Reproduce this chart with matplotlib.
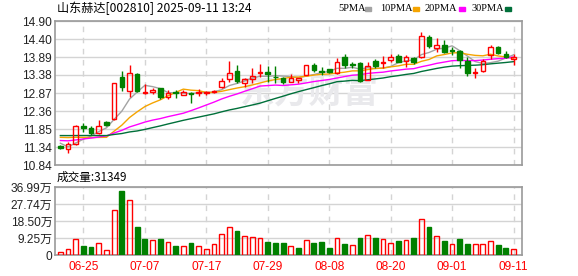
import matplotlib
matplotlib.use("Agg")
import matplotlib.pyplot as plt
from matplotlib.patches import Rectangle
import numpy as np
import pandas as pd

plt.rcParams["font.family"] = ["Liberation Sans", "Noto Sans CJK SC"]

# ---- data ----
dates = ["06-20", "06-23", "06-24", "06-25", "06-26", "06-27", "06-30", "07-01", "07-02", "07-03",
         "07-04", "07-07", "07-08", "07-09", "07-10", "07-11", "07-14", "07-15", "07-16", "07-17",
         "07-18", "07-21", "07-22", "07-23", "07-24", "07-25", "07-28", "07-29", "07-30", "07-31",
         "08-01", "08-04", "08-05", "08-06", "08-07", "08-08", "08-11", "08-12", "08-13", "08-14",
         "08-15", "08-18", "08-19", "08-20", "08-21", "08-22", "08-25", "08-26", "08-27", "08-28",
         "08-29", "09-01", "09-02", "09-03", "09-04", "09-05", "09-08", "09-09", "09-10", "09-11"]

open_ = [11.38, 11.28, 11.43, 11.94, 11.88, 11.73, 12.05, 12.14, 13.31, 12.93,
         13.41, 12.88, 12.90, 13.00, 12.77, 12.89, 12.82, 12.88, 12.86, 12.87,
         12.89, 13.05, 13.26, 13.50, 13.16, 13.26, 13.44, 13.45, 13.33, 13.28,
         13.19, 13.24, 13.38, 13.66, 13.49, 13.54, 13.43, 13.89, 13.69, 13.71,
         13.24, 13.77, 13.71, 13.80, 13.92, 13.77, 13.85, 13.89, 14.46, 14.13,
         14.22, 14.08, 14.05, 13.77, 13.43, 13.50, 13.94, 14.16, 13.96, 13.82]
high = [11.40, 11.49, 11.97, 12.02, 11.94, 12.11, 12.07, 13.16, 13.50, 13.66,
        13.44, 13.12, 13.02, 13.02, 12.95, 12.95, 12.95, 12.91, 12.97, 12.94,
        12.95, 13.28, 13.78, 13.66, 13.30, 13.57, 13.69, 13.63, 13.63, 13.33,
        13.41, 13.30, 13.66, 13.71, 13.60, 13.56, 13.85, 13.96, 13.74, 13.73,
        13.74, 13.82, 13.92, 13.96, 13.98, 13.94, 13.89, 14.58, 14.50, 14.43,
        14.36, 14.18, 14.08, 13.89, 13.58, 13.82, 14.22, 14.20, 14.05, 13.96]
low = [11.29, 11.17, 11.39, 11.78, 11.68, 11.70, 11.93, 12.11, 12.93, 12.77,
       12.91, 12.84, 12.84, 12.69, 12.69, 12.74, 12.80, 12.60, 12.79, 12.81,
       12.88, 13.00, 13.19, 13.16, 13.05, 13.16, 13.33, 13.19, 13.14, 13.12,
       13.17, 13.14, 13.38, 13.47, 13.38, 13.44, 13.40, 13.58, 13.57, 13.18,
       13.24, 13.58, 13.57, 13.74, 13.73, 13.61, 13.68, 13.87, 14.15, 14.04,
       13.99, 13.94, 13.58, 13.36, 13.30, 13.47, 13.83, 13.98, 13.85, 13.66]
close = [11.31, 11.43, 11.94, 11.88, 11.73, 11.93, 11.96, 13.14, 13.03, 13.43,
         12.93, 12.90, 12.96, 12.75, 12.88, 12.86, 12.91, 12.85, 12.90, 12.91,
         12.94, 13.22, 13.43, 13.20, 13.26, 13.35, 13.47, 13.41, 13.31, 13.19,
         13.30, 13.28, 13.66, 13.52, 13.47, 13.45, 13.73, 13.66, 13.67, 13.21,
         13.64, 13.62, 13.73, 13.89, 13.75, 13.89, 13.74, 14.49, 14.19, 14.22,
         14.04, 14.06, 13.80, 13.43, 13.45, 13.77, 14.18, 14.01, 13.88, 13.89]

# closes before the window, estimated so the moving averages start where they do
prior_close = [11.45, 11.90, 11.85, 11.75, 11.95, 11.97, 12.20, 12.25, 12.10, 12.08,
               11.60, 11.45, 11.30, 11.25, 11.32, 11.35, 11.48, 11.55, 11.52, 11.58,
               11.50, 11.85, 11.90, 11.78, 11.90, 11.94, 11.40, 11.34, 11.28]

# volume in 万 (10k) shares
volume_wan = [1.44, 3.07, 8.66, 4.87, 4.33, 6.32, 2.53, 24.36, 34.64, 29.77,
              15.16, 8.66, 7.94, 8.66, 6.86, 4.87, 4.87, 6.50, 4.87, 3.25,
              5.77, 11.19, 15.16, 12.99, 10.29, 9.74, 9.20, 7.04, 6.50, 6.50,
              4.87, 3.79, 7.94, 6.50, 7.04, 3.79, 9.02, 5.95, 5.23, 9.20,
              10.65, 9.20, 8.48, 6.50, 7.58, 7.94, 9.20, 19.85, 15.16, 10.10,
              7.58, 5.77, 8.66, 5.95, 5.77, 5.77, 7.40, 5.41, 3.79, 3.1349]

price_labels = ["10.84", "11.34", "11.85", "12.36", "12.87", "13.38", "13.89", "14.40", "14.90"]
vol_labels = ["0", "9.25万", "18.50万", "27.74万", "36.99万"]
tick_dates = ["06-25", "07-07", "07-17", "07-29", "08-08", "08-20", "09-01", "09-11"]
ma_windows = [5, 10, 20, 30]
ma_names = ["5PMA", "10PMA", "20PMA", "30PMA"]
ma_colors = ["#a3a3a3", "#f5a400", "#ff00ff", "#00703a"]

UP = "#ff0000"
DOWN = "#008000"
GRID = "#d4d4d4"
FRAME = "#9a9a9a"
TXT = "#222222"

W, H = 578, 276
fig = plt.figure(figsize=(W / 100, H / 100), dpi=100)
fig.patch.set_facecolor("white")


def px_axes(left, top, right, bottom):
    return fig.add_axes([left / W, 1 - bottom / H, (right - left) / W, (bottom - top) / H])


ax = px_axes(55, 21, 522, 165)
axv = px_axes(55, 187, 522, 255)

x = np.arange(len(close))
o = np.array(open_)
c = np.array(close)
hi = np.array(high)
lo = np.array(low)
up = c >= o
body_lo = np.minimum(o, c)
body_hi = np.maximum(o, c)
body_h = np.maximum(body_hi - body_lo, 0.006)
cand_col = [UP if u else DOWN for u in up]

# moving averages
full = pd.Series(prior_close + close)
for w, col in zip(ma_windows, ma_colors):
    ma = full.rolling(w).mean().iloc[len(prior_close):].to_numpy()
    ax.plot(x, ma, color=col, lw=1.0, zorder=3)

ax.vlines(x, body_hi, hi, colors=cand_col, lw=1.0, zorder=4)
ax.vlines(x, lo, body_lo, colors=cand_col, lw=1.0, zorder=4)
ax.bar(x, body_h, bottom=body_lo, width=0.6,
       color=["none" if u else DOWN for u in up], edgecolor=cand_col, linewidth=1.0, zorder=4)

# watermark
ax.text(0.545, 0.505, "东方财富", transform=ax.transAxes, ha="center", va="center",
        fontsize=25, fontweight="bold", color="#e9e9ec", family=["Noto Sans CJK SC"], zorder=1)

# volume, coloured by close vs previous close
prev_close = np.array([prior_close[-1]] + close[:-1])
vol_col = [UP if cc >= pc else DOWN for cc, pc in zip(c, prev_close)]
axv.bar(x, volume_wan, width=0.62, color=["none" if vc == UP else DOWN for vc in vol_col],
        edgecolor=vol_col, linewidth=1.0, zorder=4)

tick_pos = [dates.index(d) for d in tick_dates]
for a in (ax, axv):
    a.set_xlim(-0.7, 60.1)
    a.set_xticks(tick_pos)
    a.set_axisbelow(True)
    a.xaxis.grid(True, color=GRID, lw=1.0, ls=(0, (4, 4)))
    a.yaxis.grid(True, color=GRID, lw=1.0, ls="-")
    a.tick_params(length=0, pad=2, labelsize=8.6, colors=TXT)
    for s in a.spines.values():
        s.set_color(FRAME)
        s.set_linewidth(1.2)

ax.set_ylim(10.84, 14.90)
ax.set_yticks(np.linspace(10.84, 14.90, len(price_labels)))
ax.set_yticklabels(price_labels)
ax.tick_params(axis="x", labelbottom=False)

axv.set_ylim(0, 36.99)
axv.set_yticks(np.linspace(0, 36.99, len(vol_labels)))
axv.set_yticklabels(vol_labels)
axv.set_xticklabels(tick_dates)
axv.tick_params(axis="x", colors=UP, pad=4)

# header texts
cjk = ["Noto Sans CJK SC", "DejaVu Sans"]
fig.text(57 / W, 1 - 8.5 / H, "山东赫达[002810] 2025-09-11 13:24", ha="left", va="center",
         fontsize=8.7, color="black", family=cjk)
fig.text(57 / W, 1 - 177.5 / H, "成交量:%d" % round(volume_wan[-1] * 10000), ha="left", va="center",
         fontsize=8.4, color="black", family=cjk)

# legend: label text followed by a small colour swatch
leg_x = [338, 380, 425, 472]
swatch_x = [365, 413, 459, 505]
for lx, sx, name, col in zip(leg_x, swatch_x, ma_names, ma_colors):
    fig.text(lx / W, 1 - 8.5 / H, name, ha="left", va="center", fontsize=7.5,
             color="black", family=["Liberation Serif"])
    fig.patches.append(Rectangle((sx / W, 1 - 10.5 / H), 6 / W, 4 / H,
                                 transform=fig.transFigure, color=col, figure=fig))

fig.savefig("out.png", dpi=100, facecolor="white")
